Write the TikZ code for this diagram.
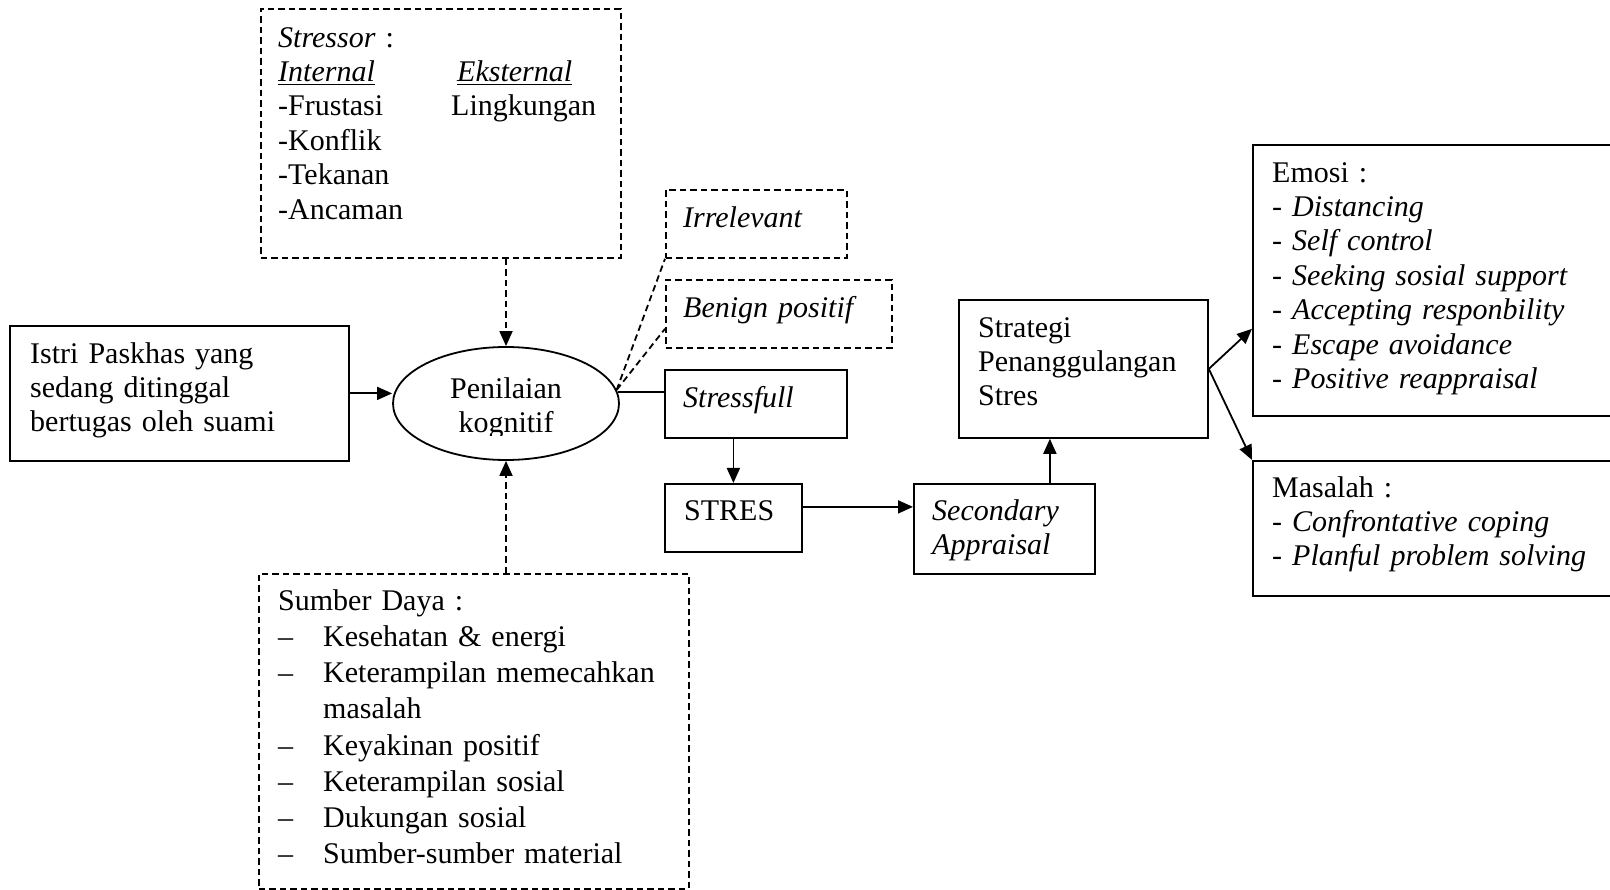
\documentclass[tikz,border=0pt]{standalone}
\usepackage{fontspec}
\setmainfont{Liberation Serif}
\usetikzlibrary{shapes.geometric,arrows.meta}
\newcommand\myul[1]{\setbox0\hbox{#1}\rlap{\rule[-3.5pt]{\wd0}{1.5pt}}\box0}
\newcommand\fsA{\fontsize{30}{34.4}\selectfont}
\newcommand\fsB{\fontsize{30}{36.2}\selectfont}
\begin{document}
\begin{tikzpicture}[x=1pt,y=-1pt,
  lw/.style={line width=1.8pt},
  boxs/.style={draw, lw, rectangle, inner sep=0pt, anchor=north west},
  dboxs/.style={boxs, dash pattern=on 6.5pt off 4pt},
  txt/.style={anchor=north west, inner sep=0pt, text width=330pt, align=left, font=\fsA},
  arr/.style={lw, -{Triangle[length=15pt,width=13pt]}},
  darr/.style={arr, dash pattern=on 6.5pt off 4pt},
  dln/.style={lw, dash pattern=on 6.5pt off 4pt},
]
\useasboundingbox (0,0) rectangle (1610,890);
\clip (0,0) rectangle (1610,890);

% boxes
\node[dboxs, minimum width=360pt, minimum height=249pt] (stressor) at (260,8) {};
\node[boxs, minimum width=339pt, minimum height=135pt] (istri) at (9,325) {};
\node[draw, lw, ellipse, inner sep=0pt, minimum width=226pt, minimum height=113pt] (pk) at (506,403.5) {};
\node[dboxs, minimum width=181pt, minimum height=68pt] (irr) at (665,189) {};
\node[dboxs, minimum width=226pt, minimum height=68pt] (benign) at (665,279) {};
\node[boxs, minimum width=182pt, minimum height=68pt] (stressfull) at (664,369) {};
\node[boxs, minimum width=137pt, minimum height=68pt] (stres) at (664,483) {};
\node[boxs, minimum width=181pt, minimum height=90pt] (secondary) at (913,483) {};
\node[boxs, minimum width=249pt, minimum height=138pt] (strategi) at (958,299) {};
\node[boxs, minimum width=363pt, minimum height=271pt] (emosi) at (1252,144) {};
\node[boxs, minimum width=363pt, minimum height=135pt] (masalah) at (1252,460) {};
\node[dboxs, minimum width=430pt, minimum height=315pt] (sumber) at (258,573) {};

% texts
\node[txt] (stressorT) at (278,22.92) {\strut\textit{Stressor} :\\
  \makebox[179pt][l]{\myul{\textit{Internal}}}\myul{\textit{Eksternal}}\\
  \makebox[173pt][l]{-Frustasi}Lingkungan\\
  -Konflik\\
  -Tekanan\\
  -Ancaman};
\node[txt] (istriT) at (30,338.92) {\strut Istri Paskhas yang\\ sedang ditinggal\\ bertugas oleh suami};
\begin{scope}
  \clip (393,340) rectangle (619,435.5);
  \node[txt, anchor=north, text width=220pt, align=center] (pkT) at (506,373.92) {\strut Penilaian\\ kognitif};
\end{scope}
\node[txt, text width=160pt] (irrT) at (683,202.92) {\strut\textit{Irrelevant}};
\node[txt, text width=200pt] (benT) at (683,292.92) {\strut\textit{Benign positif}};
\node[txt, text width=160pt] (sfT) at (683,382.92) {\strut\textit{Stressfull}};
\node[txt, text width=110pt] (stresT) at (684,495.92) {\strut STRES};
\node[txt, text width=160pt] (secT) at (932,495.92) {\strut\textit{Secondary}\\ \textit{Appraisal}};
\node[txt, text width=225pt] (strT) at (978,312.92) {\strut Strategi\\ Penanggulangan\\ Stres};
\node[txt] (emoT) at (1272,157.92) {\strut Emosi :\\
  - \textit{Distancing}\\
  - \textit{Self control}\\
  - \textit{Seeking sosial support}\\
  - \textit{Accepting responbility}\\
  - \textit{Escape avoidance}\\
  - \textit{Positive reappraisal}};
\node[txt] (masT) at (1272,472.92) {\strut Masalah :\\
  - \textit{Confrontative coping}\\
  - \textit{Planful problem solving}};
\node[txt, font=\fsB, text width=400pt] (sumT) at (278,584.66) {\strut Sumber Daya :\\
  \makebox[45pt][l]{–}Kesehatan \& energi\\
  \makebox[45pt][l]{–}Keterampilan memecahkan\\
  \hspace*{45pt}masalah\\
  \makebox[45pt][l]{–}Keyakinan positif\\
  \makebox[45pt][l]{–}Keterampilan sosial\\
  \makebox[45pt][l]{–}Dukungan sosial\\
  \makebox[45pt][l]{–}Sumber-sumber material};

% connectors
\draw[arr] (istri.east) -- (istri.east -| pk.west);
\draw[darr] (pk.north |- stressor.south) -- (pk.north);
\draw[darr] (pk.south |- sumber.north) -- (pk.south);
\draw[lw] (pk.6) -- (pk.6 -| stressfull.west);
\draw[dln] (pk.7) -- (irr.south west);
\draw[dln] (pk.7) -- ([yshift=20pt]benign.south west);
\draw[arr] (stressfull.south -| stres.north) -- (stres.north);
\draw[arr] ([yshift=11pt]stres.east) -- ([yshift=11pt]stres.east -| secondary.west);
\draw[arr] ([xshift=45.5pt]secondary.north) -- ([xshift=45.5pt]secondary.north |- strategi.south);
\draw[arr] (strategi.east) -- ([yshift=88pt]emosi.south west);
\draw[arr] (strategi.east) -- (masalah.north west);
\end{tikzpicture}
\end{document}
